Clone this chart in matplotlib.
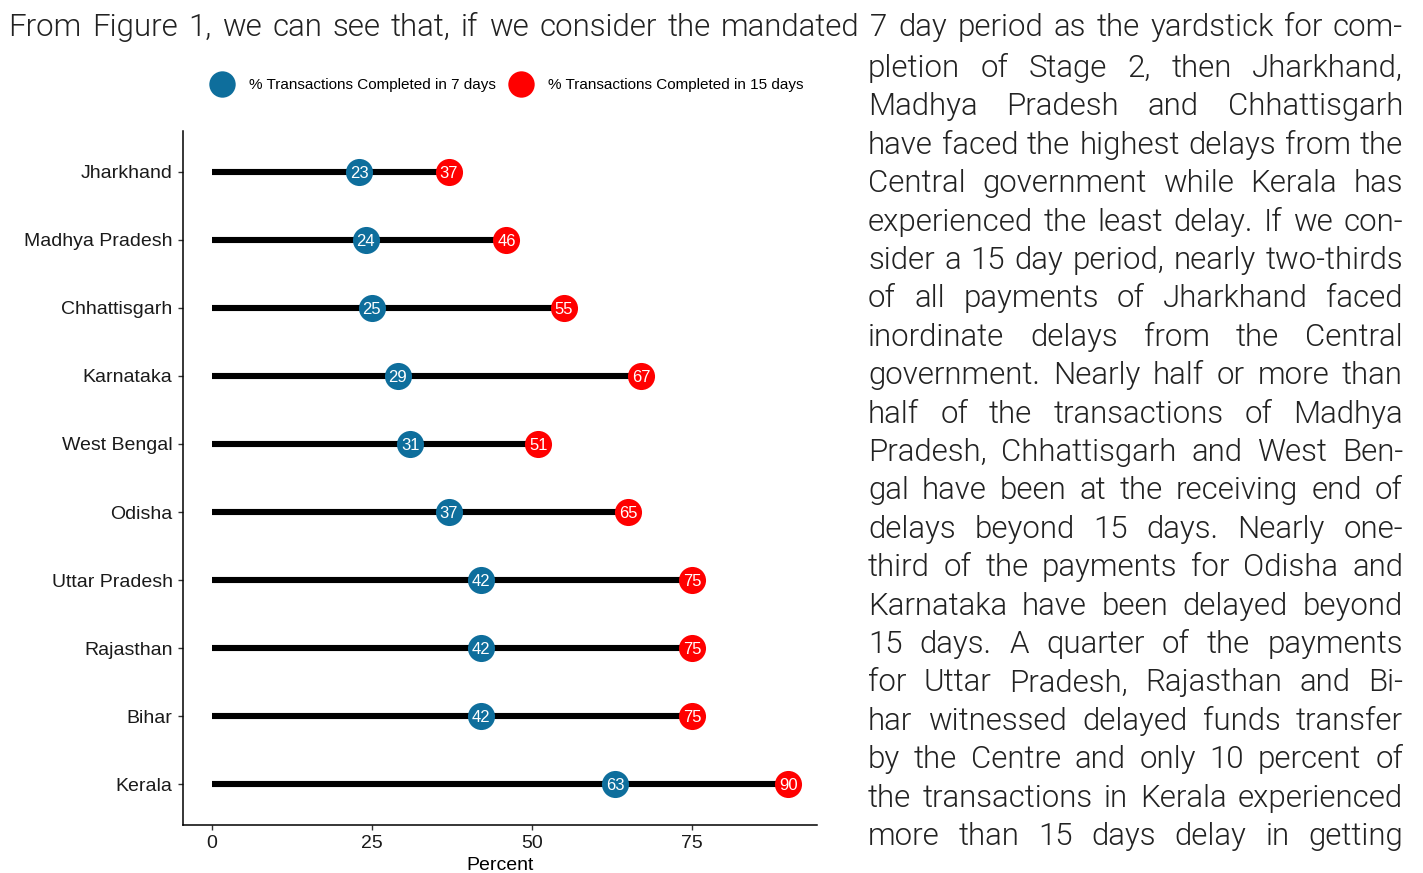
import matplotlib
matplotlib.use("Agg")
import matplotlib.pyplot as plt
from matplotlib.lines import Line2D
from matplotlib.transforms import IdentityTransform

# ---------------- data ----------------
states = ['Jharkhand', 'Madhya Pradesh', 'Chhattisgarh', 'Karnataka', 'West Bengal',
          'Odisha', 'Uttar Pradesh', 'Rajasthan', 'Bihar', 'Kerala']
pct_7days = [23, 24, 25, 29, 31, 37, 42, 42, 42, 63]
pct_15days = [37, 46, 55, 67, 51, 65, 75, 75, 75, 90]
x_ticks = [0, 25, 50, 75]
legend_labels = ['% Transactions Completed in 7 days', '% Transactions Completed in 15 days']

top_line = ("From Figure 1, we can see that, if we consider the mandated 7 day period "
            "as the yardstick for com-")
column_lines = [
    "pletion of Stage 2, then Jharkhand,",
    "Madhya Pradesh and Chhattisgarh",
    "have faced the highest delays from the",
    "Central government while Kerala has",
    "experienced the least delay. If we con-",
    "sider a 15 day period, nearly two-thirds",
    "of all payments of Jharkhand faced",
    "inordinate delays from the Central",
    "government. Nearly half or more than",
    "half of the transactions of Madhya",
    "Pradesh, Chhattisgarh and West Ben-",
    "gal have been at the receiving end of",
    "delays beyond 15 days. Nearly one-",
    "third of the payments for Odisha and",
    "Karnataka have been delayed beyond",
    "15 days. A quarter of the payments",
    "for Uttar Pradesh, Rajasthan and Bi-",
    "har witnessed delayed funds transfer",
    "by the Centre and only 10 percent of",
    "the transactions in Kerala experienced",
    "more than 15 days delay in getting",
]

# ---------------- figure ----------------
W, H = 1423, 873
fig = plt.figure(figsize=(W / 100, H / 100), dpi=100)
fig.patch.set_facecolor('white')

BLUE = '#0E6E9C'
RED = '#FF0000'
CHART_FONT = ['Liberation Sans', 'DejaVu Sans']

ax_left, ax_right, ax_top, ax_bottom = 183, 817, 131, 825
ax = fig.add_axes([ax_left / W, 1 - ax_bottom / H, (ax_right - ax_left) / W, (ax_bottom - ax_top) / H])

ypos = list(range(len(states)))
for y, a, b in zip(ypos, pct_7days, pct_15days):
    ax.plot([0, b], [y, y], color='black', lw=4.4, solid_capstyle='butt', zorder=1)
ax.plot(pct_7days, ypos, 'o', color=BLUE, ms=19.5, mec='none', zorder=3)
ax.plot(pct_15days, ypos, 'o', color=RED, ms=19.5, mec='none', zorder=3)
for y, a, b in zip(ypos, pct_7days, pct_15days):
    ax.text(a, y, str(a), color='white', fontsize=12, ha='center', va='center_baseline',
            family=CHART_FONT, zorder=4)
    ax.text(b, y, str(b), color='white', fontsize=12, ha='center', va='center_baseline',
            family=CHART_FONT, zorder=4)

ax.set_xlim(-4.5, 94.5)
ax.set_ylim(len(states) - 1 + 0.6, -0.6)
ax.set_yticks(ypos)
ax.set_yticklabels(states, family=CHART_FONT, fontsize=14, color='#1a1a1a')
ax.set_xticks(x_ticks)
ax.set_xticklabels([str(t) for t in x_ticks], family=CHART_FONT, fontsize=14, color='#1a1a1a')
ax.set_xlabel('Percent', family=CHART_FONT, fontsize=14, color='black', labelpad=3)
for s in ['top', 'right']:
    ax.spines[s].set_visible(False)
for s in ['left', 'bottom']:
    ax.spines[s].set_linewidth(1.1)
    ax.spines[s].set_color('black')
ax.tick_params(axis='both', length=3.5, width=1.0, color='#333333', pad=4)

handles = [Line2D([], [], ls='none', marker='o', ms=19, color=BLUE, mec='none'),
           Line2D([], [], ls='none', marker='o', ms=19, color=RED, mec='none')]
fig.legend(handles, legend_labels, loc='center', bbox_to_anchor=(507 / W, 1 - 85 / H),
           ncol=2, frameon=False, prop={'family': CHART_FONT, 'size': 11},
           handletextpad=1.0, columnspacing=0.9, handlelength=1.5)

# ---------------- justified body text ----------------
TEXT_FONT = ['Roboto', 'DejaVu Sans']
TEXT_SIZE = 22.5
TEXT_COLOR = '#222222'
renderer = fig.canvas.get_renderer()


def justify(line, x0, x1, ybase):
    words = line.split()
    objs = []
    widths = []
    for w in words:
        t = fig.text(0, H - ybase, w, transform=IdentityTransform(), family=TEXT_FONT,
                     fontsize=TEXT_SIZE, fontweight=300, color=TEXT_COLOR,
                     ha='left', va='baseline')
        objs.append(t)
        widths.append(t.get_window_extent(renderer).width)
    gap = (x1 - x0 - sum(widths)) / max(len(words) - 1, 1)
    x = x0
    for t, wd in zip(objs, widths):
        t.set_x(x)
        x += wd + gap


justify(top_line, 8, 1403, 36)
for i, line in enumerate(column_lines):
    justify(line, 868, 1403, 77 + i * 38.4)

fig.savefig('out.png', dpi=100)
